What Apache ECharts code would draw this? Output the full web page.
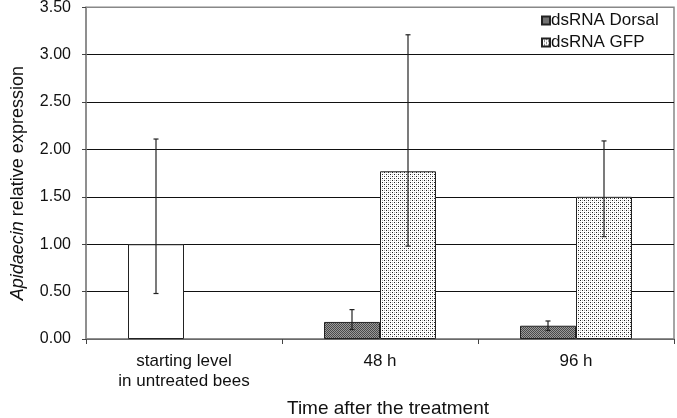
<!DOCTYPE html>
<html>
<head>
<meta charset="utf-8">
<script src="https://cdn.jsdelivr.net/npm/echarts@6/dist/echarts.min.js"></script>
<style>html,body{margin:0;padding:0;background:#fff;}#c{width:677px;height:418px;}</style>
</head>
<body>
<div id="c"></div>
<script>
// ---- data ----
const categories = ['starting level\nin untreated bees', '48 h', '96 h'];
const seriesNames = ['dsRNA Dorsal', 'dsRNA GFP'];
const dorsal = [1.00, 0.18, 0.14];
const dorsalHigh = [2.11, 0.31, 0.19];
const dorsalLow = [0.48, 0.10, 0.09];
const gfp = [null, 1.77, 1.50];
const gfpHigh = [null, 3.21, 2.09];
const gfpLow = [null, 0.98, 1.08];
const yTicks = [0, 0.5, 1, 1.5, 2, 2.5, 3, 3.5];

// ---- patterns ----
function makePattern(draw, w, h) {
  const c = document.createElement('canvas');
  c.width = w; c.height = h;
  const ctx = c.getContext('2d');
  draw(ctx);
  return { image: c, repeat: 'repeat' };
}
const dorsalFill = makePattern(ctx => {
  ctx.fillStyle = '#9a9a9a'; ctx.fillRect(0, 0, 2, 2);
  ctx.fillStyle = '#4a4a4a'; ctx.fillRect(0, 0, 1, 1); ctx.fillRect(1, 1, 1, 1);
}, 2, 2);
const gfpFill = makePattern(ctx => {
  ctx.fillStyle = '#ffffff'; ctx.fillRect(0, 0, 4, 4);
  ctx.fillStyle = '#222'; ctx.fillRect(0, 0, 1, 1); ctx.fillRect(2, 2, 1, 1);
  ctx.fillStyle = '#b8b8b8'; ctx.fillRect(2, 0, 1, 1); ctx.fillRect(0, 2, 1, 1);
}, 4, 4);

const BAR_W = 56;
const FONT = 'Liberation Sans, Arial, sans-serif';

function errSeries(name, low, high, offset) {
  const d = [];
  low.forEach((l, i) => { if (l != null) d.push([i, l, high[i]]); });
  return {
    type: 'custom', name: name + ' err', z: 10, silent: true,
    data: d,
    encode: { x: 0, y: [1, 2] },
    renderItem: function (params, api) {
      const i = api.value(0);
      const pLow = api.coord([i, api.value(1)]);
      const pHigh = api.coord([i, api.value(2)]);
      const x = pLow[0] + offset;
      const cap = 2.5;
      const st = { stroke: '#222', lineWidth: 1.2 };
      return {
        type: 'group', children: [
          { type: 'line', shape: { x1: x, y1: pLow[1], x2: x, y2: pHigh[1] }, style: st },
          { type: 'line', shape: { x1: x - cap, y1: pLow[1], x2: x + cap, y2: pLow[1] }, style: st },
          { type: 'line', shape: { x1: x - cap, y1: pHigh[1], x2: x + cap, y2: pHigh[1] }, style: st }
        ]
      };
    }
  };
}

const chart = echarts.init(document.getElementById('c'), null, { renderer: 'canvas' });
chart.setOption({
  animation: false,
  backgroundColor: '#fff',
  textStyle: { fontFamily: FONT, color: '#111' },
  grid: { left: 86, right: 3, top: 7.3, bottom: 79, outerBoundsMode: 'none', containLabel: false,
    show: true, borderColor: '#888', borderWidth: 1.5, backgroundColor: 'transparent' },
  legend: {
    data: seriesNames,
    orient: 'vertical', left: 539, top: 10,
    itemWidth: 8, itemHeight: 8, itemGap: 5,
    backgroundColor: '#fff', padding: [2, 10, 3, 2],
    textStyle: { fontSize: 17, fontFamily: FONT, color: '#111', padding: [0, 0, 0, -4] },
    icon: 'rect', selectedMode: false
  },
  xAxis: {
    type: 'category', data: categories,
    name: 'Time after the treatment', nameLocation: 'middle', nameGap: 60,
    nameTextStyle: { fontSize: 19, fontFamily: FONT, color: '#111', padding: [0, 0, 0, 16] },
    axisLine: { lineStyle: { color: '#888', width: 1.5 } },
    axisTick: { show: true, length: 5, lineStyle: { color: '#444' } },
    axisLabel: { fontSize: 17, lineHeight: 20, margin: 12, color: '#111', fontFamily: FONT },
    splitLine: { show: false }
  },
  yAxis: {
    type: 'value', min: 0, max: 3.5, interval: 0.5,
    name: '{i|Apidaecin} relative expression', nameLocation: 'middle', nameGap: 59,
    nameTextStyle: { fontSize: 18, fontFamily: FONT, color: '#111', padding: [0, 20, 0, 0],
      rich: { i: { fontStyle: 'italic', fontSize: 18, fontFamily: FONT, color: '#111' } } },
    axisLine: { show: true, lineStyle: { color: '#888', width: 1.5 } },
    axisTick: { show: true, length: 4, lineStyle: { color: '#444' } },
    axisLabel: { fontSize: 16, margin: 15, color: '#111', fontFamily: FONT, formatter: v => v.toFixed(2) },
    splitLine: { show: true, lineStyle: { color: yTicks.map((t, i) => i === yTicks.length - 1 ? '#888' : '#111'), width: 1 } }
  },
  series: [
    {
      name: seriesNames[0], type: 'bar', barWidth: BAR_W, barGap: '0%',
      data: dorsal.map((v, i) => i === 0 ? { value: v, itemStyle: { color: '#fff' } } : v),
      itemStyle: { color: dorsalFill, borderColor: '#222', borderWidth: 1 }
    },
    {
      name: seriesNames[1], type: 'bar', barWidth: BAR_W, barGap: '0%',
      data: gfp.map(v => v == null ? '-' : v),
      itemStyle: { color: gfpFill, borderColor: '#222', borderWidth: 1 }
    },
    errSeries('dorsal', dorsalLow, dorsalHigh, -BAR_W / 2),
    errSeries('gfp', gfpLow, gfpHigh, BAR_W / 2)
  ]
});
</script>
</body>
</html>
